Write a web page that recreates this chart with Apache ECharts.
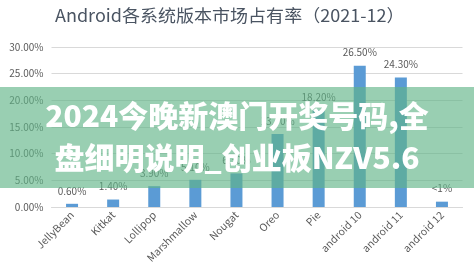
<!DOCTYPE html>
<html><head><meta charset="utf-8">
<script src="https://cdn.jsdelivr.net/npm/echarts@6/dist/echarts.min.js"></script>
<style>html,body{margin:0;padding:0;background:#fff}#c{width:474px;height:276px}</style>
</head><body><div id="c"></div>
<script>
const titleText = 'Android各系统版本市场占有率（2021-12）';
const categories = ['JellyBean','Kitkat','Lollipop','Marshmallow','Nougat','Oreo','Pie','android 10','android 11','android 12'];
const values = [0.6, 1.4, 3.9, 5.1, 6.3, 13.7, 18.2, 26.5, 24.3, 1.0];
const valueLabels = ['0.60%','1.40%','3.90%','5.10%','6.30%','13.70%','18.20%','26.50%','24.30%','<1%'];
const bannerLines = ['2024今晚新澳门开奖号码,全', '盘细明说明_创业板NZV5.6'];

const chart = echarts.init(document.getElementById('c'), null, {renderer:'canvas'});
const font = '"Noto Sans CJK SC","Noto Sans",sans-serif';
chart.setOption({
  animation:false,
  backgroundColor:'#fff',
  grid:{left:51.5,right:11.5,top:47,bottom:69},
  xAxis:{type:'category',data:categories,
    axisLine:{lineStyle:{color:'#d9d9d9'}},axisTick:{show:false},
    axisLabel:{rotate:45,fontSize:10.5,color:'#595959',interval:0,margin:6,fontFamily:font}},
  yAxis:{type:'value',min:0,max:30,interval:5,
    axisLabel:{formatter:v=>v.toFixed(2)+'%',fontSize:10,color:'#595959',margin:8,fontFamily:font},
    splitLine:{lineStyle:{color:'#d9d9d9'}},axisLine:{show:false},axisTick:{show:false}},
  series:[{type:'bar',data:values,barWidth:12,itemStyle:{color:'#5b9bd5'},
    label:{show:true,position:'top',distance:8,fontSize:10,color:'#595959',fontFamily:font,
      formatter:p=>valueLabels[p.dataIndex]}}],
  graphic:[
    {type:'text',x:55,y:7,scaleX:1.06,z:50,style:{text:titleText,fill:'#4a5462',font:'17px '+font}},
    {type:'rect',shape:{x:0,y:87,width:474,height:101},style:{fill:'rgba(95,180,135,0.64)'},z:100},
    {type:'text',left:'center',top:101,z:101,style:{text:bannerLines[0],fill:'#fff',font:'900 30px '+font}},
    {type:'text',left:'center',top:143,z:101,style:{text:bannerLines[1],fill:'#fff',font:'900 30px '+font}}
  ]
});
</script></body></html>
